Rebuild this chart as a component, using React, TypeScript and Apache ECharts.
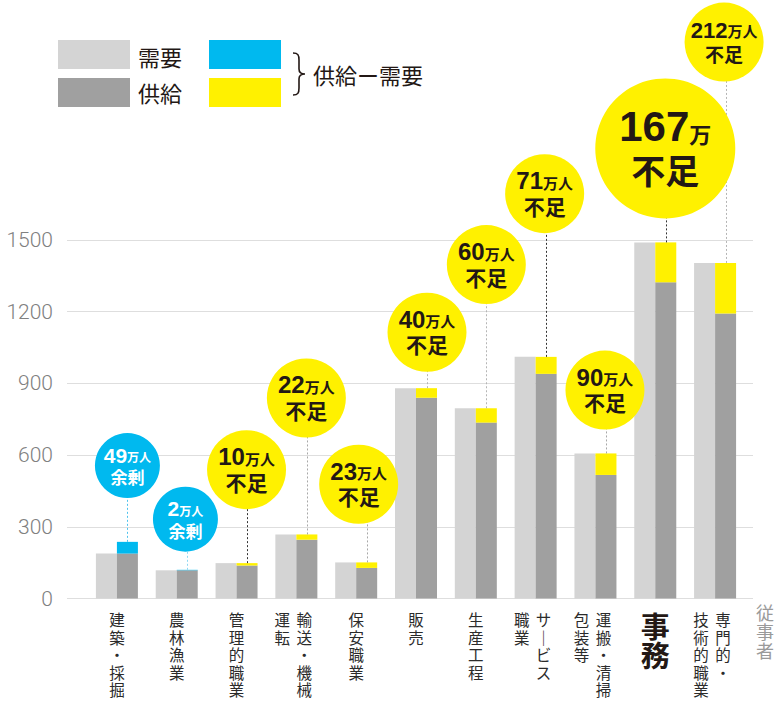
import React, { useEffect, useRef } from 'react';
import * as echarts from 'echarts';

// ---- data (万人) ----
const categories = [
  '建築・採掘', '農林漁業', '管理的職業', '輸送・機械|運転', '保安職業', '販売',
  '生産工程', 'サービス|職業', '運搬・清掃|包装等', '事務', '専門的・|技術的職業',
];
const demand = [188, 118, 148, 268, 151, 880, 796, 1011, 607, 1490, 1404];
const supply = [237, 120, 138, 246, 128, 840, 736, 940, 517, 1323, 1192];

// ---- annotation layout (not data) ----
const bubbleY = [556, 332, 539, 839, 478, 1114, 1397, 1694, 872, 1883, 2328];
const bubbleDxPx = [10.5, 8.7, 10, 10, 2.5, 11, 10.5, 9, 9.5, 10, 9];
const bubbleR = [32.5, 32.5, 39.5, 39.5, 39.5, 39.5, 39.5, 39.5, 39.5, 70, 39.5];
const bubbleKind = ['s', 's', 'm', 'm', 'm', 'm', 'm', 'm', 'm', 'l', 'm2'];
const leaderColors = ['#4fc3ee', '#8fd8f3', '#333333', '#a8a8a8', '#a8a8a8', '#b5b5b5', '#b5b5b5', '#333333', '#a8a8a8', '#333333', '#b5b5b5'];

const C_DEMAND = '#d4d4d4';
const C_SUPPLY = '#a0a0a0';
const C_SURPLUS = '#00b9ef';
const C_SHORT = '#fff100';
const C_TEXT = '#231815';
const JP = '"Noto Sans CJK JP", "Noto Sans", sans-serif';
const NUM = '"Liberation Sans", Arial, sans-serif';

echarts.graphic.registerShape(
  'brace',
  echarts.graphic.extendPath(
    'M0,0 C5,0 6,2 6,7 L6,16 C6,19.5 8,21 12,21 C8,21 6,22.5 6,26 L6,35 C6,40 5,42 0,42',
    {}
  ) as any
);

const kindRich: Record<string, any> = {
  s: { n: 21, u: 12, b: 17, nl: 22, bl: 22, color: '#ffffff', unit: '万人' },
  m: { n: 24, u: 15, b: 21, nl: 24, bl: 26, color: C_TEXT, unit: '万人' },
  l: { n: 42, u: 22, b: 34, nl: 42, bl: 44, color: C_TEXT, unit: '万' },
  m2: { n: 22, u: 15, b: 19, nl: 22, bl: 24, color: C_TEXT, unit: '万人' },
};

const catStep = 657.8 / 11;

function buildOption(): any {
  const base = demand.map((d, i) => Math.min(d, supply[i]));
  const diff = demand.map((d, i) => ({
    value: Math.abs(supply[i] - d),
    itemStyle: { color: supply[i] > d ? C_SURPLUS : C_SHORT },
  }));
  const tops = demand.map((d, i) => Math.max(d, supply[i]));

  const bubbles = demand.map((d, i) => {
    const k = kindRich[bubbleKind[i]];
    const gap = Math.abs(supply[i] - d);
    const surplus = supply[i] > d;
    return {
      value: [i + bubbleDxPx[i] / catStep, bubbleY[i]],
      symbolSize: bubbleR[i] * 2,
      itemStyle: { color: surplus ? C_SURPLUS : C_SHORT, opacity: 1 },
      label: {
        show: true,
        position: 'inside',
        formatter: `{n|${gap}}{u|${k.unit}}\n{b|${surplus ? '余剰' : '不足'}}`,
        rich: {
          n: { fontSize: k.n, fontWeight: 'bold', fontFamily: NUM, color: k.color, lineHeight: k.nl, verticalAlign: 'bottom' },
          u: { fontSize: k.u, fontWeight: 'bold', fontFamily: JP, color: k.color, lineHeight: k.u, verticalAlign: 'bottom', padding: [0, 0, 3, 0] },
          b: { fontSize: k.b, fontWeight: 'bold', fontFamily: JP, color: k.color, lineHeight: k.bl, align: 'center' },
        },
      },
    };
  });

  const labelFormatter = (value: string) => {
    const cols = value.split('|').map((s) => Array.from(s.replace(/ー/g, '｜')));
    if (value === '事務') return cols[0].map((ch) => `{big|${ch}}`).join('\n');
    if (cols.length === 1) return cols[0].map((ch) => `{c|${ch}}`).join('\n');
    const [right, left] = cols;
    const n = Math.max(right.length, left.length);
    const rows: string[] = [];
    for (let r = 0; r < n; r++) {
      rows.push(`{c2|${left[r] ?? '　'}}{c2|${right[r] ?? '　'}}{sp| }`);
    }
    return rows.join('\n');
  };

  return {
    animation: false,
    textStyle: { fontFamily: JP },
    grid: [
      { left: 67, right: 31, top: 240, bottom: 106.5 },
      { left: 87, right: 39, top: 240, bottom: 106.5 },
    ],
    xAxis: [
      { type: 'value', gridIndex: 0, show: false, min: 0, max: 1 },
      {
        type: 'category',
        gridIndex: 1,
        data: categories,
        axisLine: { show: false },
        axisTick: { show: false },
        axisLabel: {
          interval: 0,
          margin: 12,
          formatter: labelFormatter,
          rich: {
            c: { fontSize: 15.5, lineHeight: 17.5, color: '#2b2b2b', fontFamily: JP },
            c2: { fontSize: 15.5, lineHeight: 17.5, color: '#2b2b2b', fontFamily: JP, width: 22, align: 'center' },
            sp: { width: 6, fontSize: 15.5, lineHeight: 17.5 },
            big: { fontSize: 29, lineHeight: 29, fontWeight: 'bold', color: C_TEXT, fontFamily: JP },
          },
        },
        name: '従\n事\n者',
        nameLocation: 'end',
        nameGap: 20,
        nameTextStyle: { fontSize: 18, lineHeight: 19, color: '#9a9a9a', align: 'center', verticalAlign: 'top', padding: [4, 0, 0, 0], fontFamily: JP },
      },
      { type: 'value', gridIndex: 1, show: false, min: -0.5, max: 10.5 },
    ],
    yAxis: [
      {
        type: 'value',
        gridIndex: 0,
        min: 0,
        max: 1500,
        interval: 300,
        axisLine: { show: false },
        axisTick: { show: false },
        axisLabel: {
          fontSize: 21,
          color: '#808080',
          margin: 14,
          fontFamily: 'Roboto, "Liberation Sans", sans-serif',
          fontWeight: 300,
          formatter: (v: number) => String(v),
        },
        splitLine: { lineStyle: { color: '#dedede', width: 1 } },
      },
      { type: 'value', gridIndex: 1, min: 0, max: 1500, show: false },
    ],
    series: [
      {
        type: 'bar', xAxisIndex: 1, yAxisIndex: 1, data: demand, barWidth: 21, barGap: '0%',
        itemStyle: { color: C_DEMAND }, z: 2,
      },
      {
        type: 'bar', xAxisIndex: 1, yAxisIndex: 1, data: base, stack: 'sup', barWidth: 21, barGap: '0%',
        itemStyle: { color: C_SUPPLY }, z: 2,
      },
      {
        type: 'bar', xAxisIndex: 1, yAxisIndex: 1, data: diff, stack: 'sup', barWidth: 21, barGap: '0%', z: 2,
      },
      {
        type: 'custom',
        xAxisIndex: 1,
        yAxisIndex: 1,
        clip: false,
        z: 3,
        encode: { x: 0, y: 1 },
        data: tops.map((t, i) => [i, t, bubbleY[i]]),
        renderItem: (params: any, api: any) => {
          const i = api.value(0);
          const p1 = api.coord([i, api.value(1)]);
          const p2 = api.coord([i, api.value(2)]);
          const x = Math.round(p1[0] + 10.5) + 0.5;
          return {
            type: 'line',
            shape: { x1: x, y1: p1[1], x2: x, y2: p2[1] },
            style: { stroke: leaderColors[params.dataIndex], lineWidth: 1, lineDash: [2, 2] },
          };
        },
      },
      {
        type: 'scatter',
        xAxisIndex: 2,
        yAxisIndex: 1,
        clip: false,
        z: 5,
        symbol: 'circle',
        data: bubbles,
      },
    ],
    graphic: [
      { type: 'rect', x: 58, y: 40, shape: { width: 72, height: 29 }, style: { fill: C_DEMAND } },
      { type: 'rect', x: 58, y: 78, shape: { width: 72, height: 29 }, style: { fill: C_SUPPLY } },
      { type: 'rect', x: 209, y: 40, shape: { width: 72, height: 29 }, style: { fill: C_SURPLUS } },
      { type: 'rect', x: 209, y: 78, shape: { width: 72, height: 29 }, style: { fill: C_SHORT } },
      { type: 'text', x: 138, y: 56, style: { text: '需要', fontSize: 22, fontFamily: JP, fill: C_TEXT, verticalAlign: 'middle' } },
      { type: 'text', x: 138, y: 92, style: { text: '供給', fontSize: 22, fontFamily: JP, fill: C_TEXT, verticalAlign: 'middle' } },
      { type: 'brace', x: 293, y: 53, style: { fill: 'none', stroke: C_TEXT, lineWidth: 1.6 } },
      { type: 'text', x: 313, y: 74, style: { text: '供給ー需要', fontSize: 22, fontFamily: JP, fill: C_TEXT, verticalAlign: 'middle' } },
    ],
  };
}

export default function App() {
  const ref = useRef<HTMLDivElement>(null);
  useEffect(() => {
    if (!ref.current) return;
    const chart = echarts.init(ref.current, undefined, { renderer: 'svg' });
    chart.setOption(buildOption());
    return () => chart.dispose();
  }, []);
  return (
    <div
      ref={ref}
      style={{ position: 'absolute', left: 0, top: 0, width: 784, height: 705, background: '#ffffff' }}
    />
  );
}
